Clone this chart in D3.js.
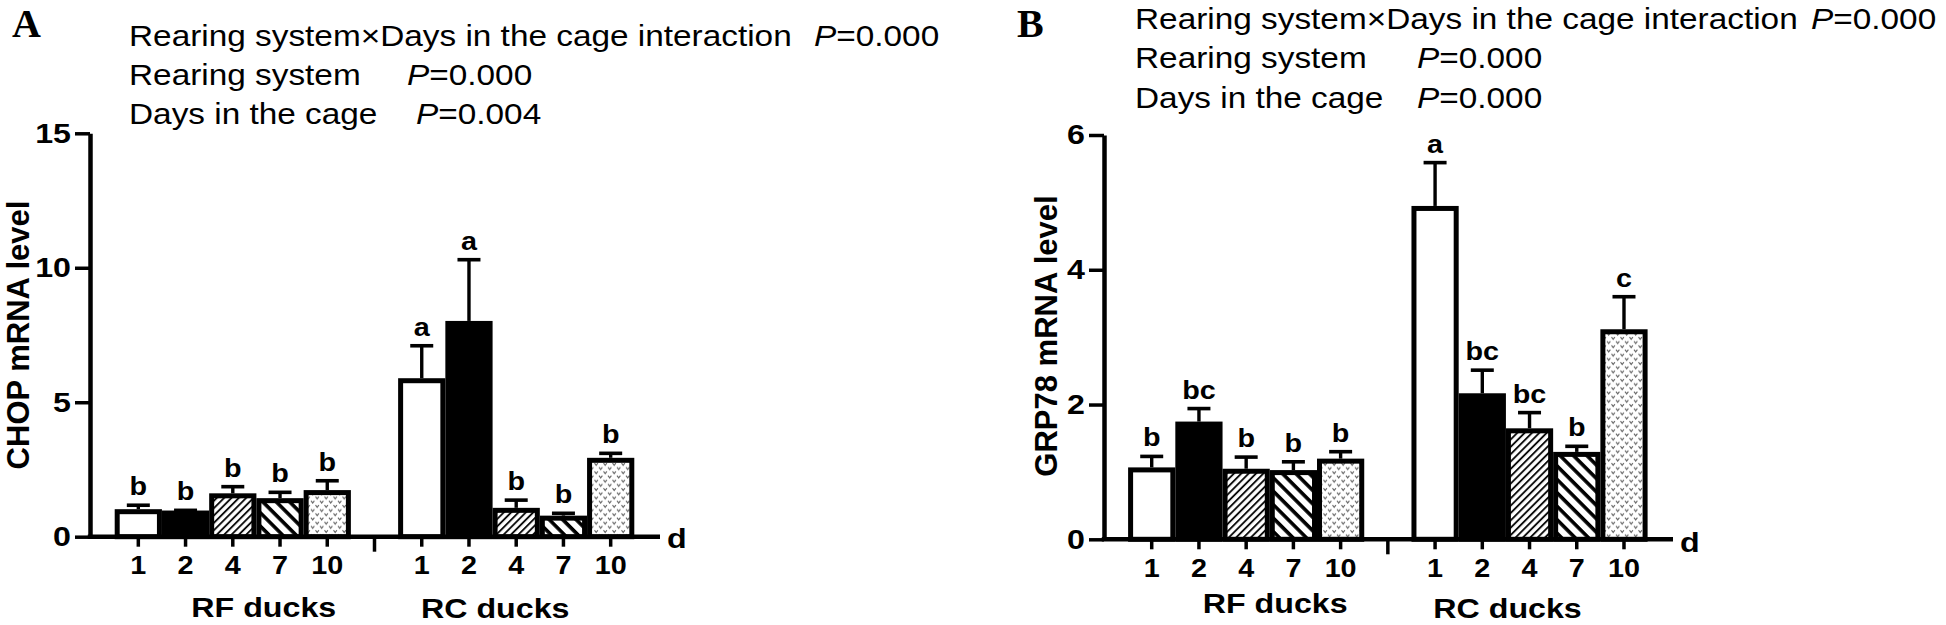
<!DOCTYPE html>
<html><head><meta charset="utf-8">
<script src="https://cdn.jsdelivr.net/npm/d3@7"></script>
<style>body{margin:0;background:#fff} text{fill:#000}</style>
</head><body>
<svg id="chart" width="1946" height="625" font-family="Arial, 'Liberation Sans', sans-serif"></svg>
<script>
// ---- data ----
const days = ["1","2","4","7","10"];
const groups = ["RF ducks","RC ducks"];
const chopMean = [0.93, 0.88, 1.52, 1.34, 1.64, 5.8, 7.93, 0.98, 0.69, 2.84];
const chopErr  = [1.17, 0.98, 1.86, 1.65, 2.08, 7.1, 10.3, 1.36, 0.87, 3.1];
const chopLetters = ["b","b","b","b","b","a","a","b","b","b"];
const grpMean = [1.03, 1.71, 1.01, 0.99, 1.16, 4.91, 2.13, 1.61, 1.26, 3.08];
const grpErr  = [1.23, 1.94, 1.22, 1.15, 1.30, 5.59, 2.51, 1.88, 1.38, 3.60];
const grpLetters = ["b","bc","b","b","b","a","bc","bc","b","c"];
const chopTicks = [0, 5, 10, 15];
const grpTicks = [0, 2, 4, 6];
const statsA = [["Rearing system×Days in the cage interaction", "0.000"], ["Rearing system", "0.000"], ["Days in the cage", "0.004"]];
const statsB = [["Rearing system×Days in the cage interaction", "0.000"], ["Rearing system", "0.000"], ["Days in the cage", "0.000"]];

// ---- helpers ----
const SX = 1.15;
const SANS = "Arial, 'Liberation Sans', sans-serif";
const svg = d3.select("#chart");
function stretch(sel, sx) {
  sel.each(function () {
    const t = d3.select(this);
    const x = +t.attr("x") || 0, y = +t.attr("y") || 0;
    t.attr("x", 0).attr("y", 0).attr("transform", `translate(${x},${y}) scale(${sx},1)`);
  });
}

// patterns
const defs = svg.append("defs");
const pUp = defs.append("pattern").attr("id", "hatchUp").attr("patternUnits", "userSpaceOnUse")
  .attr("width", 5.2).attr("height", 10).attr("patternTransform", "rotate(45)");
pUp.append("rect").attr("width", 5.2).attr("height", 10).attr("fill", "#fff");
pUp.append("line").attr("x1", 1).attr("x2", 1).attr("y1", 0).attr("y2", 10).attr("stroke", "#000").attr("stroke-width", 1.8);
const pDn = defs.append("pattern").attr("id", "hatchDown").attr("patternUnits", "userSpaceOnUse")
  .attr("width", 9.5).attr("height", 10).attr("patternTransform", "rotate(-45)");
pDn.append("rect").attr("width", 9.5).attr("height", 10).attr("fill", "#fff");
pDn.append("line").attr("x1", 2).attr("x2", 2).attr("y1", 0).attr("y2", 10).attr("stroke", "#000").attr("stroke-width", 3.6);
const pV = defs.append("pattern").attr("id", "vees").attr("patternUnits", "userSpaceOnUse")
  .attr("width", 9).attr("height", 8.4);
pV.append("rect").attr("width", 9).attr("height", 8.4).attr("fill", "#fff");
pV.append("path").attr("d", "M0.5,1 L2.2,3.2 L3.9,1 M5,5.2 L6.7,7.4 L8.4,5.2")
  .attr("fill", "none").attr("stroke", "#666").attr("stroke-width", 1.1);
const fills = ["#fff", "#000", "url(#hatchUp)", "url(#hatchDown)", "url(#vees)"];

function panel(cfg) {
  const g = svg.append("g");
  const keys = [];
  groups.forEach((gr, gi) => {
    days.forEach(d => keys.push(gi + "-" + d));
    if (gi === 0) keys.push("sep");
  });
  const barKeys = keys.filter(k => k !== "sep");
  const x = d3.scaleBand().domain(keys).range(cfg.xRange).paddingInner(0).paddingOuter(0);
  const y = d3.scaleLinear().domain([0, cfg.yMax]).range([cfg.y0, cfg.yTop]);
  const bw = x.bandwidth();
  const cx = k => x(k) + bw / 2;

  // bars
  const data = barKeys.map((k, i) => ({ k, mean: cfg.mean[i], err: cfg.err[i], letter: cfg.letters[i], di: i % 5 }));
  g.selectAll("rect.bar").data(data).join("rect")
    .attr("x", d => x(d.k) + 2.5).attr("width", bw - 5)
    .attr("y", d => y(d.mean)).attr("height", d => y(0) - y(d.mean))
    .attr("fill", d => fills[d.di]).attr("stroke", "#000").attr("stroke-width", 5);
  // error bars
  g.selectAll("line.eb").data(data).join("line")
    .attr("x1", d => cx(d.k)).attr("x2", d => cx(d.k))
    .attr("y1", d => y(d.mean) - 2.5).attr("y2", d => y(d.err))
    .attr("stroke", "#000").attr("stroke-width", 3.4);
  g.selectAll("line.cap").data(data).join("line")
    .attr("x1", d => cx(d.k) - 11.5).attr("x2", d => cx(d.k) + 11.5)
    .attr("y1", d => y(d.err)).attr("y2", d => y(d.err))
    .attr("stroke", "#000").attr("stroke-width", 3.6);
  const lt = g.selectAll("text.let").data(data).join("text")
    .attr("x", d => cx(d.k)).attr("y", d => y(d.err) - 10)
    .attr("text-anchor", "middle").attr("font-weight", "bold").attr("font-size", 25)
    .text(d => d.letter);
  stretch(lt, SX);

  // y axis
  const ya = g.append("g").attr("transform", `translate(${cfg.yAxisX},0)`)
    .call(d3.axisLeft(y).tickValues(cfg.ticks).tickSize(15).tickSizeOuter(0).tickPadding(4).tickFormat(d3.format("d")));
  ya.select(".domain").attr("stroke-width", 4.5).attr("stroke", "#000");
  ya.selectAll(".tick line").attr("stroke-width", 3.5).attr("stroke", "#000");
  ya.selectAll(".tick text").attr("font-size", 28).attr("font-weight", "bold").attr("font-family", SANS).attr("fill", "#000");
  stretch(ya.selectAll(".tick text"), SX);

  // x axis
  const xa = g.append("g").attr("transform", `translate(0,${cfg.y0})`)
    .call(d3.axisBottom(x).tickValues(barKeys).tickSize(10).tickSizeOuter(0).tickPadding(10).tickFormat(k => k.split("-")[1]));
  xa.select(".domain").remove();
  xa.selectAll(".tick line").attr("stroke-width", 3.5).attr("stroke", "#000");
  xa.selectAll(".tick text").attr("font-size", 25).attr("font-weight", "bold").attr("font-family", SANS).attr("fill", "#000");
  stretch(xa.selectAll(".tick text"), SX);
  xa.append("line").attr("x1", cx("sep")).attr("x2", cx("sep")).attr("y1", 0).attr("y2", 15)
    .attr("stroke", "#000").attr("stroke-width", 3.5);
  g.append("line").attr("x1", cfg.yAxisX - 2.2).attr("x2", cfg.axisEnd).attr("y1", cfg.y0).attr("y2", cfg.y0)
    .attr("stroke", "#000").attr("stroke-width", 4.5);
  const dl = g.append("text").attr("x", cfg.axisEnd + 7).attr("y", cfg.y0 + cfg.dDy)
    .attr("font-size", 28).attr("font-weight", "bold").text("d");
  stretch(dl, SX);

  // group labels
  groups.forEach((gr, gi) => {
    const t = g.append("text").attr("x", cx(gi + "-4") + cfg.grpOff[gi]).attr("y", cfg.grpY[gi])
      .attr("text-anchor", "middle").attr("font-size", 28).attr("font-weight", "bold").text(gr);
    stretch(t, SX);
  });

  // y title
  g.append("text").attr("transform", `translate(${cfg.titleX},${cfg.titleY}) rotate(-90)`)
    .attr("text-anchor", "middle").attr("font-size", 31).attr("font-weight", "bold").text(cfg.title);

  // panel letter
  g.append("text").attr("x", cfg.letterX).attr("y", 36.5)
    .style("font-family", "'Liberation Serif', 'Times New Roman', serif")
    .attr("font-size", 40).attr("font-weight", "bold").text(cfg.letter);

  // stats text
  cfg.stats.forEach((s, i) => {
    const t1 = g.append("text").attr("x", cfg.statX).attr("y", cfg.statY[i]).attr("font-size", 29).text(s[0]);
    stretch(t1, SX);
    const t2 = g.append("text").attr("x", cfg.statPX[i]).attr("y", cfg.statY[i]).attr("font-size", 29);
    t2.append("tspan").attr("font-style", "italic").text("P");
    t2.append("tspan").text("=" + s[1]);
    stretch(t2, SX);
  });
}

panel({
  mean: chopMean, err: chopErr, letters: chopLetters, ticks: chopTicks, yMax: 15,
  xRange: [114.7, 634.3], y0: 536.7, yTop: 133.3, yAxisX: 90, axisEnd: 660, dDy: 11,
  grpOff: [31, -21], grpY: [617, 618], title: "CHOP mRNA level", titleX: 28.5, titleY: 335,
  letter: "A", letterX: 12, stats: statsA, statX: 129, statY: [45.7, 85, 124], statPX: [814, 407, 416]
});
panel({
  mean: grpMean, err: grpErr, letters: grpLetters, ticks: grpTicks, yMax: 6,
  xRange: [1128.1, 1647.6], y0: 539.3, yTop: 135, yAxisX: 1104, axisEnd: 1673, dDy: 13,
  grpOff: [29, -22], grpY: [613, 618], title: "GRP78 mRNA level", titleX: 1056.5, titleY: 336,
  letter: "B", letterX: 1017, stats: statsB, statX: 1135, statY: [28.5, 68, 107.5], statPX: [1811, 1417, 1417]
});
</script>
</body></html>
